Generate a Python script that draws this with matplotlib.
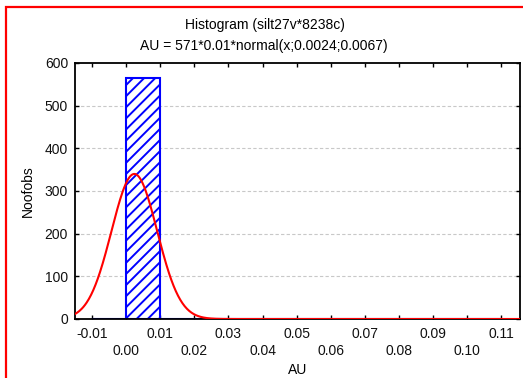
import numpy as np
import matplotlib
matplotlib.use("Agg")
import matplotlib.pyplot as plt
from matplotlib.patches import Rectangle

plt.rcParams['font.family'] = ['Liberation Sans', 'DejaVu Sans']
plt.rcParams['hatch.linewidth'] = 1.4

# Histogram bins (width 0.01) and counts
bin_edges = [-0.01, 0.00, 0.01, 0.02, 0.03, 0.04, 0.05, 0.06, 0.07, 0.08, 0.09, 0.10, 0.11]
counts = [0, 566, 1, 1, 0, 1, 0, 0, 1, 0, 0, 1]

# Fitted normal curve parameters
n_obs = 571
bin_width = 0.01
mu = 0.0024
sigma = 0.0067

x_ticks = [-0.01, 0.00, 0.01, 0.02, 0.03, 0.04, 0.05, 0.06, 0.07, 0.08, 0.09, 0.10, 0.11]
x_tick_labels = ["-0.01", "0.00", "0.01", "0.02", "0.03", "0.04", "0.05",
                 "0.06", "0.07", "0.08", "0.09", "0.10", "0.11"]
y_ticks = [0, 100, 200, 300, 400, 500, 600]

fs = 10

fig = plt.figure(figsize=(5.23, 3.78), dpi=100)
ax = fig.add_axes([75 / 523, 1 - 319 / 378, 445 / 523, 256 / 378])

# outer red frame
fig.patches.append(Rectangle((6 / 523, -0.05), 1.2, 1 - 7 / 378 + 0.05,
                             transform=fig.transFigure, fill=False,
                             edgecolor='red', linewidth=1.6, zorder=0))

ax.set_xlim(-0.015, 0.1155)
ax.set_ylim(0, 600)

for y in y_ticks[1:-1]:
    ax.axhline(y, color='#c8c8c8', linestyle=(0, (3, 2)), linewidth=0.8, zorder=0)

lefts = bin_edges[:-1]
ax.bar(lefts, counts, width=bin_width, align='edge', facecolor='white',
       edgecolor='blue', hatch='///', linewidth=1.5, zorder=2)

xs = np.linspace(-0.015, 0.1155, 800)
pdf = n_obs * bin_width * np.exp(-0.5 * ((xs - mu) / sigma) ** 2) / (sigma * np.sqrt(2 * np.pi))
ax.plot(xs, pdf, color='red', linewidth=1.5, zorder=3)

ax.set_xticks(x_ticks)
labels = [lab if i % 2 == 0 else "\n" + lab for i, lab in enumerate(x_tick_labels)]
ax.set_xticklabels(labels, fontsize=fs, linespacing=1.2)
ax.set_yticks(y_ticks)
ax.set_yticklabels([str(v) for v in y_ticks], fontsize=fs)
ax.tick_params(direction='in', length=3, width=1, top=True, right=True, pad=5,
               labelcolor='#111111')
ax.tick_params(axis='x', pad=6)

for s in ax.spines.values():
    s.set_linewidth(1.3)
    s.set_color('black')

ax.set_xlabel("AU", fontsize=fs, labelpad=4)
ax.set_ylabel("Noofobs", fontsize=fs, labelpad=7)

fig.text(265 / 523, 1 - 25 / 378, "Histogram (silt27v*8238c)", ha='center', va='center', fontsize=fs)
fig.text(264 / 523, 1 - 46 / 378, "AU = 571*0.01*normal(x;0.0024;0.0067)", ha='center', va='center', fontsize=fs)

fig.savefig("out.png", dpi=100)
